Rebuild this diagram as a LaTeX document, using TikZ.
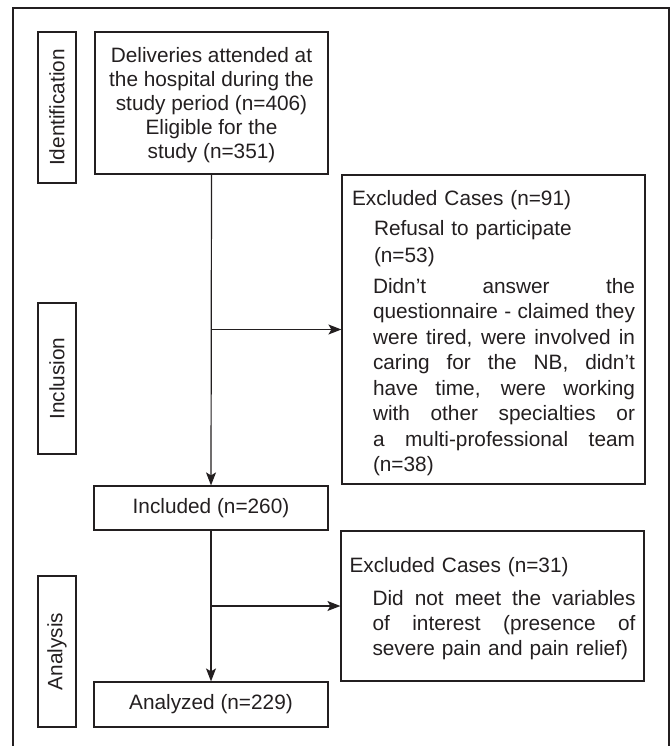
\documentclass[tikz,border=0pt]{standalone}
\usepackage{fontspec}
\setmainfont{Liberation Sans}
\usetikzlibrary{arrows.meta}
\definecolor{ink}{HTML}{231F20}
\newcommand{\jline}[2]{\hbox to #1{\spaceskip=.278em plus 1fil minus .06em\relax #2}}
\begin{document}
\begin{tikzpicture}[x=1pt,y=-1pt,
  every node/.style={font=\fontsize{20.8}{24}\selectfont, text=ink},
  box/.style={draw=ink, line width=1.2pt, inner sep=0pt},
  arr/.style={draw=ink, line width=1.2pt, -{Stealth[length=13pt,width=10pt,inset=3pt]}},
  frame/.style={draw=ink, line width=1.5pt}]
\useasboundingbox (0,0) rectangle (671,746);
% outer frame (open at bottom)
\draw[frame] (13,746) -- (13,8) -- (669,8) -- (669,746);
% stage labels
\node[box, rotate=90, minimum width=151pt, minimum height=38pt] (ident) at (57,107.5) {Identification};
\node[box, rotate=90, minimum width=151pt, minimum height=38pt] (inclu) at (57,378.5) {Inclusion};
\node[box, rotate=90, minimum width=151pt, minimum height=38pt] (analy) at (57,651.5) {Analysis};
% main boxes
\node[box, minimum width=233pt, minimum height=142pt, align=center] (deliv) at (211.5,103)
  {\rule{0pt}{19pt}Deliveries attended at\\the hospital during the\\study period (n=406)\\Eligible for the\\study (n=351)};
\node[box, minimum width=234pt, minimum height=44pt] (incl) at (211,508) {Included (n=260)};
\node[box, minimum width=234pt, minimum height=45pt] (anal) at (211,704.5) {Analyzed (n=229)};
% excluded boxes
\node[box, minimum width=303pt, minimum height=309pt, text width=283pt, align=left,
      font=\fontsize{20.8}{25.5}\selectfont] (ex1) at (493.5,329.5)
  {\rule{0pt}{22.5pt}Excluded Cases (n=91)\\[4.5pt]
   \hspace*{22pt}Refusal to participate\\[1.5pt]
   \hspace*{22pt}(n=53)\\[5.5pt]
   \hspace*{21pt}\jline{262pt}{Didn’t answer the}\\
   \hspace*{21pt}\jline{262pt}{questionnaire - claimed they}\\
   \hspace*{21pt}\jline{262pt}{were tired, were involved in}\\
   \hspace*{21pt}\jline{262pt}{caring for the NB, didn’t}\\
   \hspace*{21pt}\jline{262pt}{have time, were working}\\
   \hspace*{21pt}\jline{262pt}{with other specialties or}\\
   \hspace*{21pt}\jline{262pt}{a multi-professional team}\\
   \hspace*{21pt}(n=38)};
\node[box, minimum width=303pt, minimum height=150pt, text width=286pt, align=left,
      font=\fontsize{20.8}{25}\selectfont] (ex2) at (492.5,606)
  {\rule{0pt}{19.5pt}Excluded Cases (n=31)\\[8pt]
   \hspace*{23pt}\jline{263pt}{Did not meet the variables}\\
   \hspace*{23pt}\jline{263pt}{of interest (presence of}\\
   \hspace*{23pt}severe pain and pain relief)};
% connectors
\coordinate (b1) at (deliv.south |- ex1.west);
\coordinate (b2) at (incl.south |- ex2.west);
\draw[arr] (deliv.south) -- (incl.north);
\draw[arr] (b1) -- (ex1.west);
\draw[arr] (incl.south) -- (anal.north);
\draw[arr] (b2) -- (ex2.west);
\end{tikzpicture}
\end{document}
